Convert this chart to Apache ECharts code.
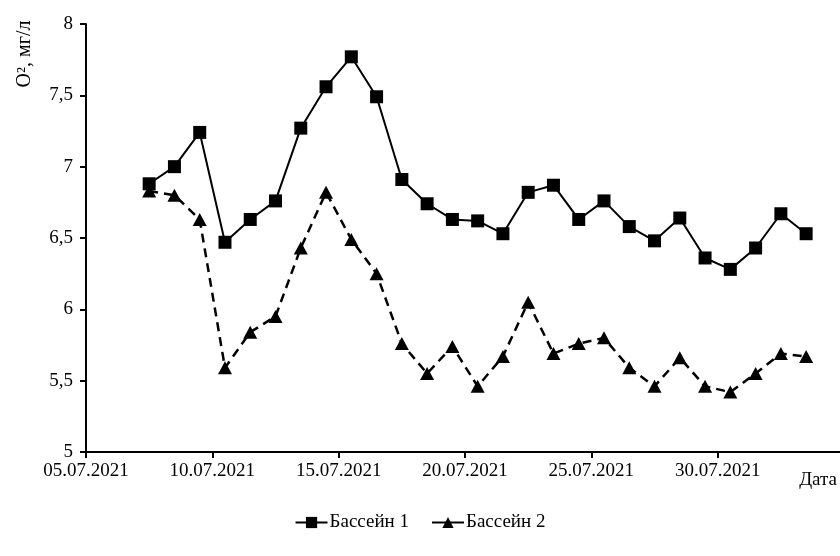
<!DOCTYPE html>
<html>
<head>
<meta charset="utf-8">
<script src="https://cdn.jsdelivr.net/npm/echarts@6/dist/echarts.min.js"></script>
<style>html,body{margin:0;padding:0;background:#fff}#c{width:840px;height:556px}</style>
</head>
<body>
<div id="c"></div>
<script>
const dates = ['07.07.2021','08.07.2021','09.07.2021','10.07.2021','11.07.2021','12.07.2021','13.07.2021','14.07.2021','15.07.2021','16.07.2021','17.07.2021','18.07.2021','19.07.2021','20.07.2021','21.07.2021','22.07.2021','23.07.2021','24.07.2021','25.07.2021','26.07.2021','27.07.2021','28.07.2021','29.07.2021','30.07.2021','31.07.2021','01.08.2021','02.08.2021'];
const pool1 = [6.88,7.00,7.24,6.47,6.63,6.76,7.27,7.56,7.77,7.49,6.91,6.74,6.63,6.62,6.53,6.82,6.87,6.63,6.76,6.58,6.48,6.64,6.36,6.28,6.43,6.67,6.53];
const pool2 = [6.83,6.80,6.63,5.59,5.84,5.95,6.43,6.82,6.49,6.25,5.76,5.55,5.74,5.46,5.67,6.05,5.69,5.76,5.80,5.59,5.46,5.66,5.46,5.42,5.55,5.69,5.67];
const tickLabels = ['05.07.2021','10.07.2021','15.07.2021','20.07.2021','25.07.2021','30.07.2021'];
const yTicks = ['5','5,5','6','6,5','7','7,5','8'];

function dayNum(s){const p=s.split('.');return Date.UTC(+p[2],+p[1]-1,+p[0])/86400000;}
const origin = dayNum(tickLabels[0]);
const xOf = s => dayNum(s) - origin + 0.5; // Excel date axis: point centred in its day
const tickPos = tickLabels.map(s => dayNum(s) - origin);
const labelMap = {}; tickLabels.forEach((s,i)=>labelMap[tickPos[i]]=s);

const font = 'Liberation Serif, "Times New Roman", serif';
const chart = echarts.init(document.getElementById('c'), null, {renderer:'canvas'});
chart.setOption({
  animation:false,
  backgroundColor:'#fff',
  textStyle:{fontFamily:font,color:'#000'},
  grid:{left:86,top:24,right:0,bottom:104,containLabel:false},
  xAxis:{
    type:'value', min:0, max:29.84, interval:5,
    splitLine:{show:false},
    axisLine:{lineStyle:{color:'#000',width:2}},
    axisTick:{show:true,length:6,lineStyle:{color:'#000',width:2},customValues:tickPos},
    axisLabel:{fontFamily:font,fontSize:19,color:'#000',margin:10,customValues:tickPos,
      formatter:v=>labelMap[v]||''}
  },
  yAxis:{
    type:'value', min:5, max:8, interval:0.5,
    splitLine:{show:false},
    axisLine:{show:true,lineStyle:{color:'#000',width:2}},
    axisTick:{show:true,length:6,lineStyle:{color:'#000',width:2}},
    axisLabel:{fontFamily:font,fontSize:19,color:'#000',margin:13,
      formatter:v=>yTicks[Math.round((v-5)/0.5)]}
  },
  legend:{
    bottom:19, left:'center', itemWidth:32, itemHeight:14, itemGap:22,
    textStyle:{fontFamily:font,fontSize:19,color:'#000',padding:[0,0,0,-3]},
    data:[{name:'Бассейн 1'},{name:'Бассейн 2',lineStyle:{type:'solid',width:2}}]
  },
  graphic:[
    {type:'text', x:25, y:54, rotation:Math.PI/2,
     style:{text:'O², мг/л', font:'20px '+font, fill:'#000', align:'center', verticalAlign:'middle'}},
    {type:'text', right:3, top:471,
     style:{text:'Дата', font:'19px '+font, fill:'#000'}}
  ],
  series:[
    {name:'Бассейн 1', type:'line', data:dates.map((d,i)=>[xOf(d),pool1[i]]),
     symbol:'rect', symbolSize:13, itemStyle:{color:'#000'},
     lineStyle:{color:'#000',width:2}},
    {name:'Бассейн 2', type:'line', data:dates.map((d,i)=>[xOf(d),pool2[i]]),
     symbol:'triangle', symbolSize:[14,13], itemStyle:{color:'#000'},
     lineStyle:{color:'#000',width:2.5,type:[9,6]}}
  ]
});
</script>
</body>
</html>
